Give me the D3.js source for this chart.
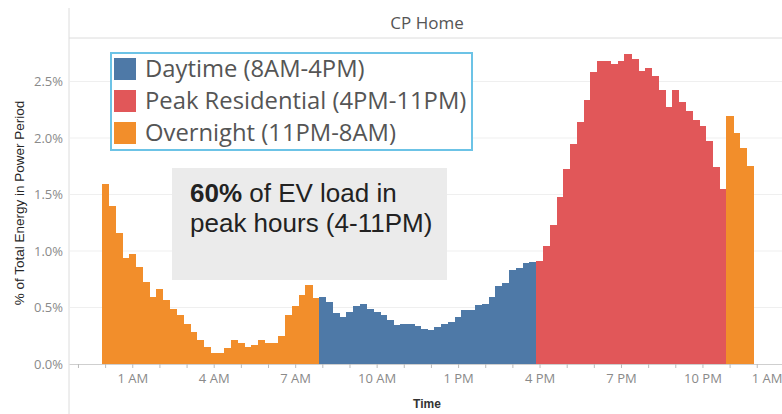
<!DOCTYPE html>
<html>
<head>
<meta charset="utf-8">
<script src="https://cdn.jsdelivr.net/npm/d3@7"></script>
<style>
  body { margin: 0; background: #fff; }
  svg { display: block; }
</style>
</head>
<body>
<div id="chart"></div>
<script>
// share of total energy (%) per 15 minute slot
const OVERNIGHT_EARLY = [1.59, 1.40, 1.16, 0.94, 0.97, 0.86, 0.73, 0.59, 0.66, 0.57, 0.49, 0.43, 0.35, 0.28, 0.21, 0.15,
                         0.10, 0.10, 0.14, 0.21, 0.19, 0.15, 0.17, 0.21, 0.19, 0.19, 0.25, 0.43, 0.51, 0.61, 0.70, 0.58]; // 00:00 - 07:45
const DAYTIME = [0.59, 0.55, 0.45, 0.42, 0.46, 0.51, 0.53, 0.49, 0.46, 0.43, 0.39, 0.345, 0.35, 0.35, 0.34, 0.31,
                 0.30, 0.325, 0.35, 0.37, 0.42, 0.475, 0.48, 0.52, 0.53, 0.59, 0.69, 0.72, 0.83, 0.85, 0.89, 0.90]; // 08:00 - 15:45
const PEAK = [0.91, 1.04, 1.23, 1.475, 1.726, 1.95, 2.145, 2.336, 2.58, 2.68, 2.68, 2.655, 2.684, 2.743,
              2.70, 2.593, 2.617, 2.55, 2.425, 2.27, 2.425, 2.32, 2.24, 2.16, 2.11, 1.97, 1.74, 1.55]; // 16:00 - 22:45
const OVERNIGHT_LATE = [2.195, 2.04, 1.91, 1.75]; // 23:00 - 23:45

const PERIODS = ["Daytime (8AM-4PM)", "Peak Residential (4PM-11PM)", "Overnight (11PM-8AM)"];
const PERIOD_COLORS = ["#4e79a7", "#e15759", "#f28e2b"];

const HOUR_TICKS = [1, 4, 7, 10, 13, 16, 19, 22, 25];
const HOUR_LABELS = ["1 AM", "4 AM", "7 AM", "10 AM", "1 PM", "4 PM", "7 PM", "10 PM", "1 AM"];
const Y_TICKS = [0, 0.5, 1.0, 1.5, 2.0, 2.5];

const FRAME_WIDTH = 782;
const FRAME_HEIGHT = 414;
const PLOT = {left: 69, right: 782, top: 38, bottom: 364};

// flatten the sections into one list of 15 minute bars
let bars = [];
[[OVERNIGHT_EARLY, 2], [DAYTIME, 0], [PEAK, 1], [OVERNIGHT_LATE, 2]].forEach(([vals, p]) => {
  vals.forEach((v) => {
    bars.push({t: bars.length * 0.25, value: v, period: p});
  });
});

const svg = d3.select("#chart")
  .append("svg")
    .attr("width", FRAME_WIDTH)
    .attr("height", FRAME_HEIGHT)
    .style("font-family", "'Open Sans', sans-serif");

const X_SCALE = d3.scaleLinear()
  .domain([-1.33, 24.93])
  .range([PLOT.left, PLOT.right]);

const Y_SCALE = d3.scaleLinear()
  .domain([0, 2.885])
  .range([PLOT.bottom, PLOT.top]);

// header
svg.append("text")
  .attr("x", 427)
  .attr("y", 29)
  .attr("text-anchor", "middle")
  .attr("font-size", "17px")
  .attr("fill", "#555")
  .text("CP Home");

svg.append("line")
  .attr("x1", PLOT.left).attr("x2", PLOT.right)
  .attr("y1", PLOT.top).attr("y2", PLOT.top)
  .attr("stroke", "#dcdcdc");

svg.append("line")
  .attr("x1", PLOT.left).attr("x2", PLOT.left)
  .attr("y1", 8).attr("y2", FRAME_HEIGHT)
  .attr("stroke", "#dcdcdc");

// gridlines
svg.append("g")
  .selectAll("line")
  .data(Y_TICKS.filter((d) => d > 0))
  .enter()
  .append("line")
    .attr("x1", PLOT.left + 1).attr("x2", PLOT.right)
    .attr("y1", (d) => Y_SCALE(d)).attr("y2", (d) => Y_SCALE(d))
    .attr("stroke", "#efefef");

// bars
svg.append("g")
  .attr("shape-rendering", "crispEdges")
  .selectAll("rect")
  .data(bars)
  .enter()
  .append("rect")
    .attr("x", (d) => X_SCALE(d.t - 0.125))
    .attr("width", (d) => X_SCALE(d.t + 0.125) - X_SCALE(d.t - 0.125) + 0.6)
    .attr("y", (d) => Y_SCALE(d.value))
    .attr("height", (d) => Y_SCALE(0) - Y_SCALE(d.value))
    .attr("fill", (d) => PERIOD_COLORS[d.period]);

// x axis, tick every hour, label every 3 hours
const xAxis = svg.append("g")
  .attr("transform", "translate(0," + PLOT.bottom + ")")
  .call(d3.axisBottom(X_SCALE)
    .tickValues(d3.range(-1, 26))
    .tickSize(4)
    .tickSizeOuter(0)
    .tickPadding(6)
    .tickFormat((d) => {
      let i = HOUR_TICKS.indexOf(d);
      return i >= 0 ? HOUR_LABELS[i] : "";
    }));
xAxis.select(".domain").attr("stroke", "#cfcfcf");
xAxis.selectAll(".tick line").attr("stroke", "#bbb");
xAxis.selectAll(".tick text")
  .attr("font-family", "'Open Sans', sans-serif")
  .attr("font-size", "13px")
  .attr("fill", "#8a8a8a");
// last label is pushed inside the view
xAxis.selectAll(".tick").filter((d) => d === 25).select("text")
  .attr("x", -2)
  .attr("text-anchor", "end");

svg.append("text")
  .attr("x", 427)
  .attr("y", 408)
  .attr("text-anchor", "middle")
  .attr("font-family", "'Liberation Sans', Arial, sans-serif")
  .attr("font-weight", "bold")
  .attr("font-size", "12px")
  .attr("fill", "#333")
  .text("Time");

// y axis labels
const yAxis = svg.append("g")
  .attr("transform", "translate(" + PLOT.left + ",0)")
  .call(d3.axisLeft(Y_SCALE)
    .tickValues(Y_TICKS)
    .tickSize(0)
    .tickPadding(6)
    .tickFormat((d) => d.toFixed(1) + "%"));
yAxis.select(".domain").remove();
yAxis.selectAll(".tick text")
  .attr("font-family", "'Open Sans', sans-serif")
  .attr("font-size", "13px")
  .attr("fill", "#8a8a8a");

svg.append("text")
  .attr("transform", "translate(24,203) rotate(-90)")
  .attr("text-anchor", "middle")
  .attr("font-family", "'Liberation Sans', Arial, sans-serif")
  .attr("font-size", "13.5px")
  .attr("fill", "#262626")
  .text("% of Total Energy in Power Period");

// legend
const legend = svg.append("g");
legend.append("rect")
  .attr("x", 111).attr("y", 53)
  .attr("width", 361).attr("height", 97)
  .attr("fill", "#fff")
  .attr("stroke", "#6cc3e6")
  .attr("stroke-width", 2);

const items = legend.selectAll(".item")
  .data(PERIODS)
  .enter()
  .append("g")
    .attr("transform", (d, i) => "translate(114," + (58 + i * 32) + ")");
items.append("rect")
  .attr("width", 22).attr("height", 22)
  .attr("fill", (d, i) => PERIOD_COLORS[i]);
items.append("text")
  .attr("x", 31)
  .attr("y", 19)
  .attr("font-size", "23.8px")
  .attr("fill", "#555")
  .text((d) => d);

// annotation
svg.append("rect")
  .attr("x", 172).attr("y", 168)
  .attr("width", 275).attr("height", 112)
  .attr("fill", "#ebebeb");

const note = svg.append("text")
  .attr("font-family", "'Liberation Sans', Arial, sans-serif")
  .attr("font-size", "26px")
  .attr("fill", "#222");
const line1 = note.append("tspan").attr("x", 190).attr("y", 202);
line1.append("tspan").attr("font-weight", "bold").text("60%");
line1.append("tspan").text(" of EV load in");
note.append("tspan").attr("x", 190).attr("y", 232).text("peak hours (4-11PM)");
</script>
</body>
</html>
